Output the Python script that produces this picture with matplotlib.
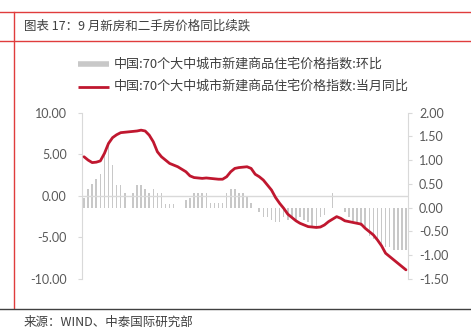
import matplotlib
matplotlib.use('Agg')
import matplotlib.pyplot as plt
from matplotlib.lines import Line2D
import numpy as np
import pandas as pd

# ---- data ----
months = list(pd.date_range('2018-02-01', periods=80, freq='MS').strftime('%Y/%m'))

# 70-city new home price index, month-on-month (%), right axis (bars)
mom = [0.20, 0.40, 0.50, 0.60, 0.70, 1.15, 1.38, 0.90, 0.48, 0.48, 0.30,
       0.00, 0.30, 0.48, 0.48, 0.40, 0.30, 0.40, 0.30, 0.30, 0.08, 0.08, 0.08,
       0.00, 0.00, 0.17, 0.20, 0.30, 0.30, 0.30, 0.30, 0.10, 0.10, 0.10, 0.10,
       0.30, 0.40, 0.40, 0.30, 0.30, 0.22, 0.10, 0.00, -0.10, -0.20, -0.20, -0.25,
       -0.30, -0.30, -0.20, -0.25, -0.20, -0.25, -0.20, -0.25, -0.30, -0.38, -0.38, -0.20,
       -0.15, 0.00, 0.30, 0.00, 0.00, -0.10, -0.20, -0.27, -0.34, -0.38, -0.45, -0.59,
       -0.65, -0.73, -0.78, -0.83, -0.83, -0.90, -0.90, -0.90, -0.90]

# 70-city new home price index, year-on-year (%), left axis (line)
yoy = [4.7, 4.3, 4.0, 4.05, 4.2, 5.1, 6.3, 7.0, 7.35, 7.6, 7.65,
       7.7, 7.75, 7.8, 7.9, 7.8, 7.3, 6.5, 5.3, 4.7, 4.3, 3.9, 3.7,
       3.5, 3.2, 2.9, 2.4, 2.2, 2.15, 2.1, 2.15, 2.1, 2.05, 2.0, 2.0,
       2.3, 2.9, 3.3, 3.4, 3.45, 3.5, 3.3, 2.6, 2.3, 1.9, 1.3, 0.7,
       -0.2, -0.9, -1.5, -2.2, -2.6, -3.0, -3.3, -3.5, -3.7, -3.75, -3.8, -3.75,
       -3.5, -3.1, -2.8, -2.5, -2.7, -3.0, -3.1, -3.2, -3.3, -3.4, -3.9, -4.3,
       -4.7, -5.3, -6.0, -6.9, -7.3, -7.7, -8.1, -8.5, -8.9]

tick_labels = ['2018/02', '2018/07', '2018/12', '2019/05', '2019/10', '2020/03',
               '2020/08', '2021/01', '2021/06', '2021/11', '2022/04', '2022/09',
               '2023/02', '2023/07', '2023/12', '2024/05']

left_ticks = [-10, -5, 0, 5, 10]
right_ticks = [-1.5, -1.0, -0.5, 0.0, 0.5, 1.0, 1.5, 2.0]

title = '图表 17：9 月新房和二手房价格同比续跌'
leg1 = '中国:70个大中城市新建商品住宅价格指数:环比'
leg2 = '中国:70个大中城市新建商品住宅价格指数:当月同比'
source = '来源：WIND、中泰国际研究部'

# ---- style ----
RED = '#C0172F'
GREY_BAR = '#c8c8c8'
AX_GREY = '#d9d9d9'
TXT = '#595959'
CJK = ['Noto Sans CJK SC', 'DejaVu Sans']
NUM = ['Lato', 'DejaVu Sans']

W, H = 471, 330
fig = plt.figure(figsize=(W / 100, H / 100), dpi=100)

def fx(px):
    return px / W

def fy(py):
    return 1 - py / H

ax = fig.add_axes([fx(82), fy(279), fx(326), (279 - 112.7) / H])
ax2 = ax.twinx()

x = np.arange(len(months))
ax2.bar(x, mom, width=0.38, color=GREY_BAR, zorder=2)
ax.axhline(0, color=AX_GREY, lw=1.0, zorder=1)
ax.plot(x, yoy, color=RED, lw=2.0, zorder=3, solid_capstyle='round')

ax.set_zorder(ax2.get_zorder() + 1)
ax.patch.set_visible(False)

ax.set_xlim(-0.5, len(months) - 0.5)
ax.set_ylim(-10, 10)
ax2.set_ylim(-1.5, 2.0)
ax.set_yticks(left_ticks)
ax.set_yticklabels([f'{v:.2f}' for v in left_ticks])
ax2.set_yticks(right_ticks)
ax2.set_yticklabels([f'{v:.2f}' for v in right_ticks])

tick_idx = [months.index(t) for t in tick_labels]
ax.set_xticks(tick_idx)
ax.set_xticklabels(tick_labels, rotation=90, va='top', ha='center')
ax2.set_xticks([])

for s in ['top', 'right', 'bottom']:
    ax.spines[s].set_visible(False)
for s in ['top', 'left', 'bottom']:
    ax2.spines[s].set_visible(False)
ax.spines['bottom'].set_position(('data', 0))
ax.spines['left'].set_color(AX_GREY)
ax2.spines['right'].set_color(AX_GREY)

ax.tick_params(axis='x', length=0, pad=6.5, labelsize=8.5, labelcolor=TXT)
ax.tick_params(axis='y', length=3, width=0.8, color=AX_GREY, pad=8, labelsize=9, labelcolor=TXT)
ax2.tick_params(axis='y', length=3, width=0.8, color=AX_GREY, pad=5, labelsize=9, labelcolor=TXT)
for lab in ax.get_xticklabels() + ax.get_yticklabels() + ax2.get_yticklabels():
    lab.set_family(NUM)

# ---- frame lines ----
FRAME_RED = '#E03C3C'
fig.add_artist(Line2D([0, 1], [fy(12), fy(12)], color=FRAME_RED, lw=1.0))
fig.add_artist(Line2D([0, 1], [fy(40.5), fy(40.5)], color=FRAME_RED, lw=1.0))
fig.add_artist(Line2D([fx(14), fx(14)], [fy(12), fy(308)], color=FRAME_RED, lw=1.0))
fig.add_artist(Line2D([0, 1], [fy(308.5), fy(308.5)], color='#404040', lw=1.0))

fig.text(fx(24), fy(26), title, family=CJK, fontsize=9.0, color='#404040', va='center', ha='left')
fig.text(fx(24), fy(322.5), source, family=CJK, fontsize=9, color='#404040', va='center', ha='left')

# ---- legend ----
fig.add_artist(Line2D([fx(78), fx(109)], [fy(64), fy(64)], color=GREY_BAR, lw=4.0, solid_capstyle='butt'))
fig.add_artist(Line2D([fx(78), fx(109)], [fy(86.5), fy(86.5)], color=RED, lw=2.0, solid_capstyle='butt'))
fig.text(fx(114), fy(64), leg1, family=CJK, fontsize=9.4, color='#404040', va='center', ha='left')
fig.text(fx(114), fy(86.5), leg2, family=CJK, fontsize=9.4, color='#404040', va='center', ha='left')

fig.savefig('out.png', dpi=100)
